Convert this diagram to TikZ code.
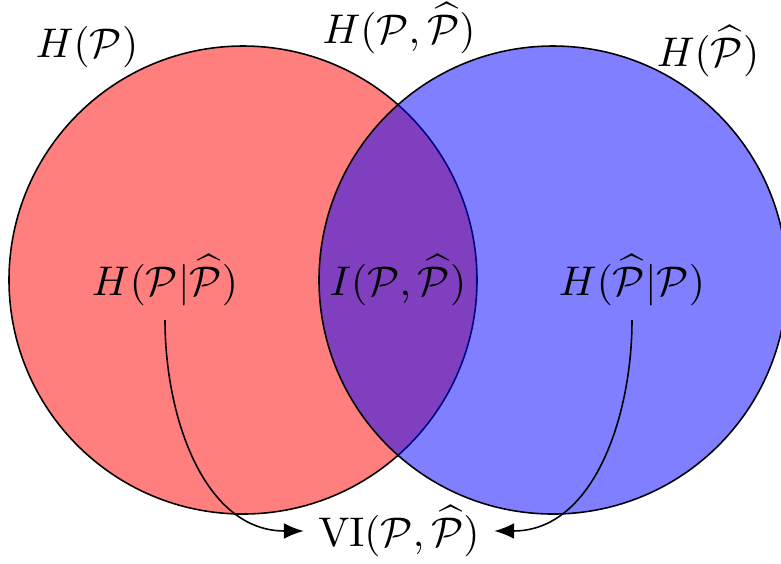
\documentclass[tikz,border=0pt]{standalone}
\usetikzlibrary{arrows.meta}
\begin{document}
\begin{tikzpicture}[x=0.2412pt,y=-0.2412pt,
  lbl/.style={anchor=base, inner sep=0.333em},
  conn/.style={-{Latex[length=4.8pt,width=3.8pt]}, line width=0.38pt}]
\useasboundingbox (0,0) rectangle (781,563);
\draw[line width=0.38pt, fill=red, fill opacity=0.5] (243,280) circle[radius=56.44pt];
\draw[line width=0.38pt, fill=blue, fill opacity=0.5] (553,280) circle[radius=56.44pt];
\node[lbl] (hp) at (87,57) {$H(\mathcal{P})$};
\node[lbl] (hj) at (399,43) {$H(\mathcal{P},\widehat{\mathcal{P}})$};
\node[lbl] (hq) at (708,66) {$H(\widehat{\mathcal{P}})$};
\node[lbl] (hpq) at (165,295) {$H(\mathcal{P}|\widehat{\mathcal{P}})$};
\node[lbl] (ipq) at (398,295) {$I(\mathcal{P},\widehat{\mathcal{P}})$};
\node[lbl] (hqp) at (632,295) {$H(\widehat{\mathcal{P}}|\mathcal{P})$};
\node[lbl] (vi) at (399,546) {$\mathrm{VI}(\mathcal{P},\widehat{\mathcal{P}})$};
\draw[conn] (hpq.south) to[out=-90,in=180] (vi.west);
\draw[conn] (hqp.south) to[out=-90,in=0] (vi.east);
\end{tikzpicture}
\end{document}
